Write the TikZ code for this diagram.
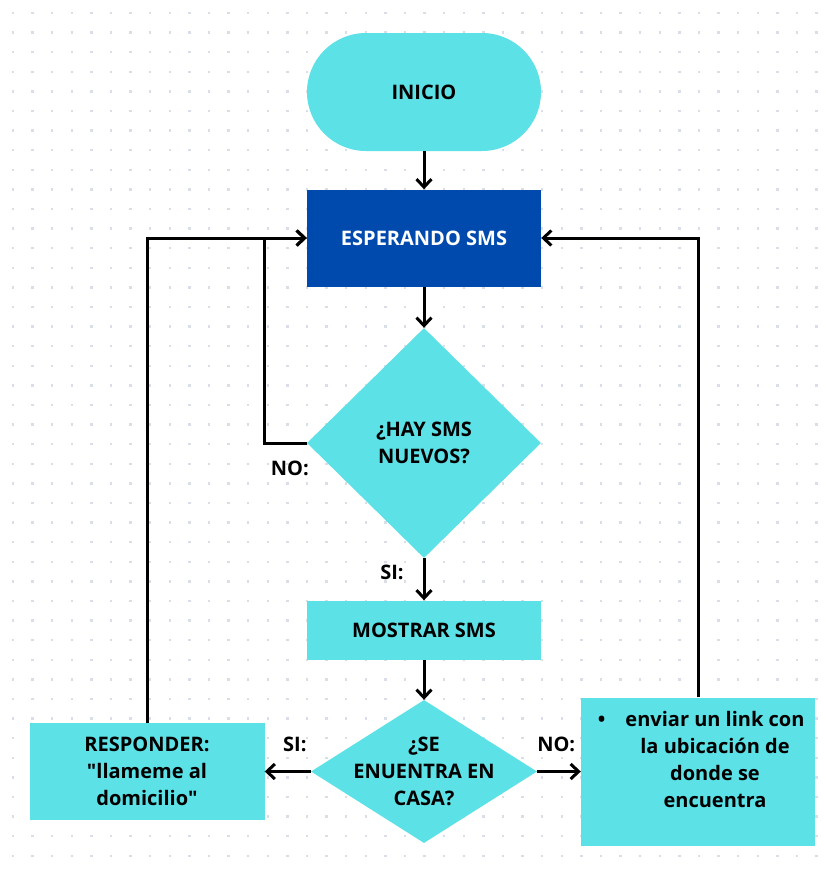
\documentclass[tikz,border=0pt]{standalone}
\usepackage{fontspec}
\setmainfont{Open Sans}
\usetikzlibrary{arrows.meta, positioning, shapes.geometric}

\definecolor{cian}{HTML}{5CE1E6}
\definecolor{azul}{HTML}{004AAD}
\definecolor{punto}{RGB}{218,222,232}

\begin{document}
\begin{tikzpicture} [x=1pt, y=-1pt, on grid,
    texto/.style = {font=\fontsize{20}{27}\selectfont\bfseries, align=center},
    inicio/.style = {texto, fill=cian, rectangle, rounded corners=59pt, minimum width=234pt, minimum height=118pt},
    proceso/.style = {texto, fill=cian, rectangle, minimum width=234pt},
    decision/.style = {texto, fill=cian, diamond, inner sep=0pt},
    etiqueta/.style = {texto},
    flecha/.style = {-{Straight Barb[length=8pt, width=15pt]}, line width=3pt}]

\useasboundingbox (0,0) rectangle (826,873);
\fill[white] (0,0) rectangle (826,873);
\foreach \i in {0,...,41}
    \foreach \j in {0,...,43}
        \fill[punto] ({13+19.6*\i-1.2},{13+19.6*\j-1.2}) rectangle ++(2.4,2.4);

\node (ini) [inicio] at (424,92) {INICIO};
\node (esp) [proceso, fill=azul, text=white, minimum height=97pt, below=146pt of ini] {ESPERANDO SMS};
\node (hay) [decision, minimum width=234pt, minimum height=230pt, below=205pt of esp] {¿HAY SMS\\NUEVOS?};
\node (mos) [proceso, minimum height=59pt, below=187pt of hay] {MOSTRAR SMS};
\node (casa) [decision, minimum width=226pt, minimum height=143pt, below=141.5pt of mos,
    label={[texto]center:¿SE\\ENUENTRA EN\\CASA?}] {};
\node (resp) [proceso, minimum width=235pt, minimum height=97pt, left=277pt of casa]
    {RESPONDER:\\\textquotedbl llameme al\\domicilio\textquotedbl};
\node (ubic) [proceso, minimum height=148pt, right=274pt of casa,
    label={[texto, xshift=17pt, yshift=12.5pt]center:\llap{\textbullet\hspace{20pt}}enviar un link con\\la ubicación de\\donde se\\encuentra}] {};

\node (noHay) [etiqueta, below left=25pt and 17pt of hay.west, anchor=center] {NO:};
\node (siHay) [etiqueta, below left=14pt and 32pt of hay.south, anchor=center] {SI:};
\node (siCasa) [etiqueta, above left=27pt and 16pt of casa.west, anchor=center] {SI:};
\node (noCasa) [etiqueta, above right=27pt and 19pt of casa.east, anchor=center] {NO:};

\draw [flecha] (ini) -- (esp);
\draw [flecha] (esp) -- (hay);
\draw [flecha] (hay.west) -- ++(-42,0) |- (esp.west);
\draw [flecha] (resp.north) |- (esp.west);
\draw [flecha] (hay) -- (mos);
\draw [flecha] (mos) -- (casa);
\draw [flecha] (casa.west) -- (resp.east);
\draw [flecha] (casa.east) -- (ubic.west);
\draw [flecha] (ubic.north) |- (esp.east);

\end{tikzpicture}
\end{document}
